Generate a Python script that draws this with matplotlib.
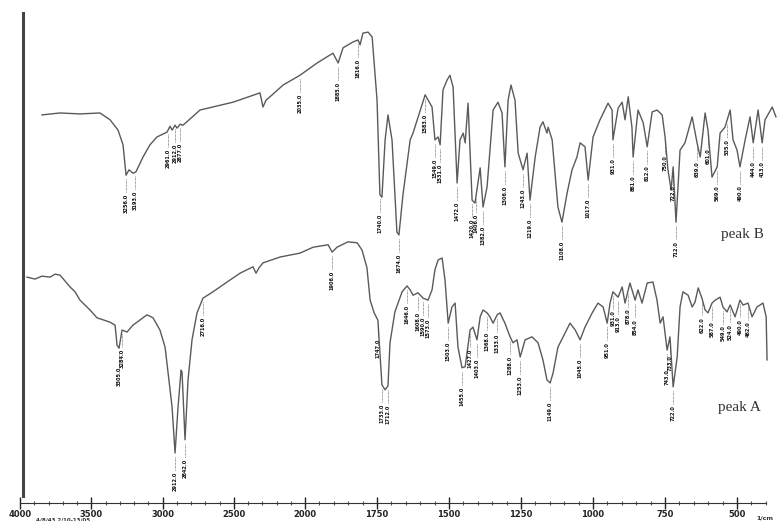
import numpy as np
import matplotlib
matplotlib.use("Agg")
import matplotlib.pyplot as plt
from matplotlib.ticker import FixedLocator, FixedFormatter

# IR spectra (wavenumber in 1/cm, transmittance in arbitrary %)
b_wn = [3846, 3719, 3579, 3439, 3368, 3312, 3277, 3263, 3256, 3235, 3207, 3186,
        3137, 3088, 3039, 2968, 2947, 2933, 2912, 2898, 2877, 2856, 2737, 2505,
        2316, 2295, 2274, 2246, 2154, 2035, 1958, 1903, 1885, 1868, 1833, 1816,
        1809, 1799, 1781, 1767, 1750, 1740, 1733, 1722, 1712, 1698, 1681, 1674,
        1660, 1635, 1625, 1583, 1559, 1549, 1538, 1531, 1521, 1507, 1497, 1486,
        1472, 1462, 1451, 1444, 1434, 1420, 1410, 1392, 1382, 1368, 1347, 1330,
        1316, 1306, 1295, 1285, 1271, 1260, 1243, 1229, 1219, 1201, 1184, 1174,
        1160, 1156, 1142, 1132, 1122, 1108, 1090, 1073, 1056, 1045, 1028, 1017,
        1000, 976, 948, 934, 931, 913, 899, 889, 878, 865, 861, 844, 826, 812,
        795, 778, 760, 750, 740, 729, 722, 712, 698, 681, 656, 639, 628, 611,
        601, 587, 569, 559, 542, 524, 514, 500, 490, 472, 455, 444, 427, 413,
        403, 378, 365]
b_t = [79.2, 79.6, 79.4, 79.6, 78.2, 76.1, 73.1, 69.0, 66.9, 68.0, 67.3, 67.6,
       70.6, 73.1, 74.7, 75.7, 76.9, 76.1, 77.1, 76.5, 77.3, 77.1, 80.2, 81.8,
       83.7, 80.8, 82.2, 82.9, 85.3, 87.3, 89.8, 91.8, 89.8, 92.9, 94.1, 94.5,
       93.5, 95.9, 96.1, 95.1, 82.2, 62.9, 62.4, 74.1, 79.2, 74.1, 55.3, 54.7,
       62.9, 74.1, 75.5, 83.3, 80.8, 74.1, 74.7, 73.1, 84.3, 86.3, 87.3, 84.9,
       65.3, 74.1, 75.5, 73.5, 81.6, 61.8, 61.2, 68.4, 60.4, 64.5, 80.2, 81.8,
       79.6, 68.6, 82.2, 85.3, 82.2, 71.4, 68.0, 71.4, 61.8, 70.6, 76.7, 77.8,
       75.5, 76.7, 74.1, 67.3, 60.4, 57.3, 63.3, 68.0, 70.6, 73.5, 72.7, 65.9,
       74.7, 78.2, 81.6, 80.2, 74.1, 80.6, 81.8, 78.2, 82.9, 76.7, 70.6, 80.2,
       77.6, 72.7, 79.8, 80.2, 79.2, 74.7, 68.0, 63.9, 68.6, 57.3, 72.0, 73.5,
       78.8, 73.5, 70.6, 79.6, 76.1, 66.5, 68.6, 75.5, 76.7, 80.2, 74.1, 72.0,
       68.6, 74.1, 78.8, 73.5, 80.2, 73.5, 78.2, 80.8, 78.8]

a_wn = [3951, 3895, 3846, 3789, 3754, 3719, 3684, 3649, 3614, 3579, 3509, 3460,
        3368, 3333, 3319, 3305, 3284, 3249, 3207, 3109, 3067, 3018, 2982, 2961,
        2933, 2912, 2891, 2870, 2863, 2842, 2821, 2793, 2758, 2716, 2646, 2547,
        2456, 2365, 2344, 2323, 2295, 2175, 2035, 1972, 1920, 1906, 1889, 1851,
        1819, 1802, 1785, 1774, 1760, 1747, 1733, 1722, 1712, 1705, 1688, 1663,
        1646, 1635, 1625, 1608, 1590, 1573, 1559, 1549, 1538, 1524, 1514, 1503,
        1490, 1479, 1469, 1455, 1444, 1427, 1417, 1403, 1392, 1382, 1368, 1358,
        1347, 1333, 1323, 1306, 1288, 1278, 1264, 1253, 1236, 1212, 1191, 1174,
        1160, 1149, 1139, 1122, 1104, 1080, 1062, 1045, 1028, 1003, 983, 965,
        951, 941, 931, 913, 899, 889, 872, 854, 844, 830, 812, 792, 778, 767,
        757, 743, 733, 722, 708, 698, 688, 670, 656, 646, 635, 622, 611, 601,
        587, 576, 559, 549, 535, 524, 507, 490, 479, 462, 448, 431, 410, 399, 396]
a_t = [46.1, 45.7, 46.3, 46.1, 46.7, 46.5, 45.3, 44.1, 43.1, 41.4, 39.4, 37.8,
       36.9, 36.3, 32.2, 31.6, 35.3, 34.9, 36.3, 38.4, 37.8, 35.3, 31.8, 26.5,
       19.6, 10.2, 19.6, 27.1, 26.7, 12.9, 25.1, 33.3, 38.8, 41.8, 43.1, 45.1,
       46.9, 48.2, 46.9, 48.0, 49.0, 50.2, 51.0, 52.2, 52.7, 51.2, 52.2, 53.3,
       53.1, 51.6, 48.0, 41.4, 38.8, 37.3, 24.1, 23.1, 23.9, 32.7, 39.0, 43.1,
       44.3, 43.5, 42.4, 42.9, 41.8, 41.4, 43.5, 47.6, 49.6, 50.0, 45.5, 36.7,
       40.0, 40.8, 31.8, 27.6, 27.8, 35.3, 35.9, 33.3, 38.0, 39.4, 38.8, 38.0,
       36.7, 38.4, 38.8, 36.7, 33.9, 32.7, 33.3, 29.8, 33.3, 33.9, 32.7, 29.2,
       25.1, 24.5, 26.5, 31.8, 33.9, 36.7, 35.3, 33.3, 35.9, 38.8, 40.8, 40.0,
       36.7, 40.8, 43.1, 42.0, 44.1, 40.8, 44.9, 41.4, 43.5, 40.8, 44.9, 45.1,
       41.4, 36.7, 38.0, 31.2, 33.9, 23.7, 29.8, 40.0, 43.1, 42.4, 40.0, 41.0,
       43.9, 41.8, 39.4, 38.8, 40.8, 41.4, 42.0, 40.0, 39.0, 40.4, 38.0, 41.4,
       40.4, 40.8, 38.0, 40.0, 40.8, 38.0, 29.2]

# annotated band positions
b_peaks = [3256, 3193, 2961, 2912, 2877, 2035, 1885, 1816, 1740, 1674, 1583,
           1549, 1531, 1472, 1420, 1406, 1382, 1306, 1243, 1219, 1108, 1017,
           931, 861, 812, 750, 722, 712, 639, 601, 569, 535, 490, 444, 413]
a_peaks = [3305, 3284, 2912, 2842, 2716, 1906, 1747, 1733, 1712, 1646, 1608,
           1590, 1573, 1503, 1455, 1427, 1403, 1368, 1333, 1288, 1253, 1149,
           1045, 951, 931, 913, 878, 854, 743, 733, 722, 622, 587, 549, 524,
           490, 462]

major_ticks = [4000, 3500, 3000, 2500, 2000, 1750, 1500, 1250, 1000, 750, 500]
major_labels = ["4000", "3500", "3000", "2500", "2000", "1750", "1500", "1250",
                "1000", "750", "500"]
minor_ticks = list(range(3900, 2000, -100)) + list(range(1950, 400, -50)) + [400]


# spectrometer axis: compressed above 2000 1/cm, expanded below
# (monotonically increasing in wavenumber; the axis itself is then inverted)
def fwd(wn):
    wn = np.asarray(wn, dtype=float)
    return -np.where(wn >= 2000, (4000 - wn) * 0.1425, 285 + (2000 - wn) * 0.288)


def inv(u):
    u = -np.asarray(u, dtype=float)
    return np.where(u <= 285, 4000 - u / 0.1425, 2000 - (u - 285) / 0.288)


fig = plt.figure(figsize=(7.8, 5.21), dpi=100)
ax = fig.add_axes([20 / 780, 18 / 521, 760 / 780, 490 / 521])
ax.set_xscale("function", functions=(fwd, inv))
ax.set_xlim(4000, 351)
ax.set_ylim(0, 100)

line_kw = dict(color="#5a5a5a", lw=1.0)
ax.plot(b_wn, b_t, **line_kw)
ax.plot(a_wn, a_t, **line_kw)


def label_peaks(peaks, wn, t):
    order = np.argsort(wn)
    xs = np.array(wn)[order]
    ys = np.array(t)[order]
    for p in peaks:
        yv = np.interp(p, xs, ys)
        ax.plot([p, p], [yv - 0.8, yv - 3.5], color="#444444", lw=0.5,
                ls=(0, (1, 1)))
        ax.text(p, yv - 3.8, f"{p}.0", rotation=90, fontsize=3.6,
                ha="center", va="top", color="#111111", fontweight="bold")


label_peaks(b_peaks, b_wn, b_t)
label_peaks(a_peaks, a_wn, a_t)

ax.text(0.923, 0.547, "peak B", transform=ax.transAxes, fontsize=11,
        family="Liberation Serif", color="#333333", va="center", ha="left")
ax.text(0.918, 0.194, "peak A", transform=ax.transAxes, fontsize=11,
        family="Liberation Serif", color="#333333", va="center", ha="left")

for s in ["top", "right"]:
    ax.spines[s].set_visible(False)
ax.spines["left"].set_linewidth(2.2)
ax.spines["left"].set_color("#444444")
ax.spines["left"].set_position(("outward", -2))
ax.spines["left"].set_bounds(1.5, 100)
ax.spines["bottom"].set_color("#333333")
ax.spines["bottom"].set_linewidth(0.8)
ax.spines["bottom"].set_bounds(4000, 400)

ax.xaxis.set_major_locator(FixedLocator(major_ticks))
ax.xaxis.set_major_formatter(FixedFormatter(major_labels))
ax.xaxis.set_minor_locator(FixedLocator(minor_ticks))
ax.tick_params(axis="x", which="major", direction="inout", length=9,
               width=1.0, labelsize=6, pad=0.5, colors="#222222")
ax.tick_params(axis="x", which="minor", direction="inout", length=3,
               width=0.8, colors="#555555")
for lab in ax.get_xticklabels():
    lab.set_fontweight("bold")
ax.set_yticks([])

fig.text(36 / 780, 1 - 519.5 / 521, "4/8/43 2/10-13/05", fontsize=4,
         fontweight="bold", color="#333333", va="center")
fig.text(765 / 780, 1 - 518 / 521, "1/cm", fontsize=4.5, fontweight="bold",
         color="#333333", va="center", ha="center")

fig.savefig("out.png", dpi=100)
